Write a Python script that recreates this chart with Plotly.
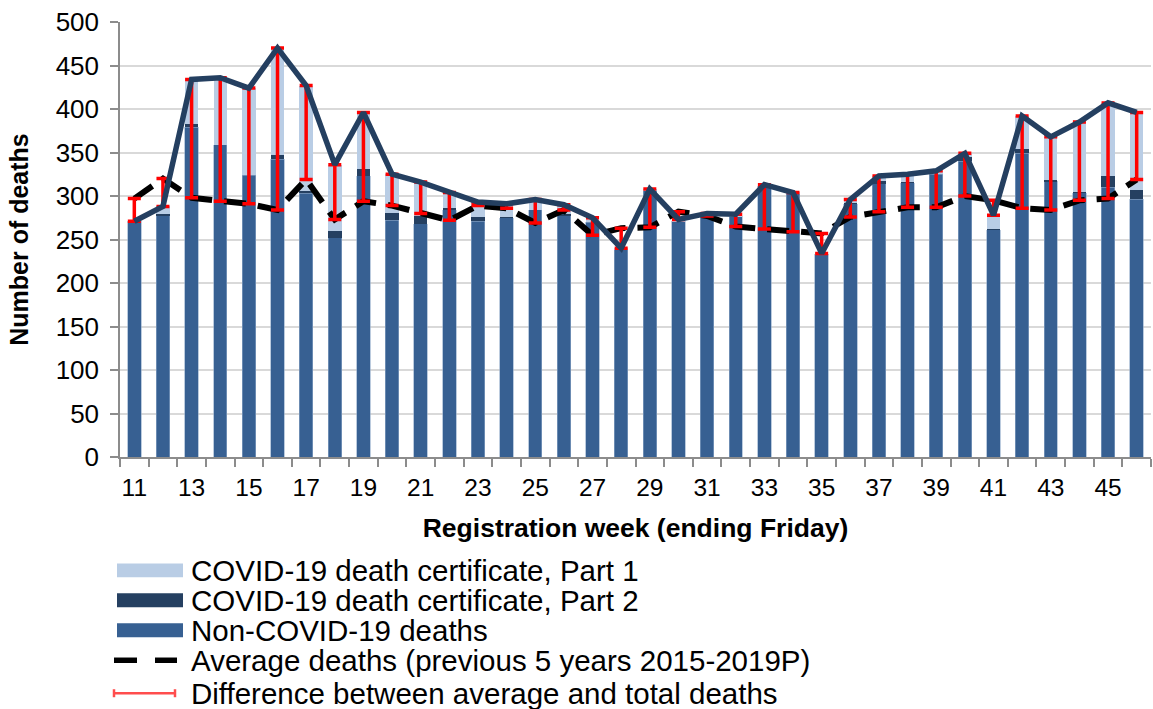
import plotly.graph_objects as go

# Registration weeks and weekly death counts
weeks = list(range(11, 47))
non_covid = [271, 278, 379, 359, 324, 342, 303, 252, 323, 272, 268, 284, 271, 275, 284, 278,
             270, 238, 306, 271, 279, 277, 312, 303, 233, 291, 314, 315, 325, 340, 261, 349,
             317, 304, 310, 296]
covid_part2 = [0, 1, 4, 0, 0, 5, 3, 8, 8, 8, 9, 2, 5, 1, 0, 1,
               0, 0, 0, 0, 0, 0, 0, 0, 0, 1, 3, 1, 0, 5, 1, 5,
               1, 1, 13, 11]
covid_part1 = [0, 9, 51, 77, 100, 123, 121, 76, 65, 45, 39, 18, 17, 15, 12, 11,
               5, 2, 2, 2, 1, 2, 1, 1, 1, 4, 6, 9, 4, 4, 16, 38,
               50, 80, 84, 89]
average_5yr = [297, 320, 298, 294, 291, 284, 319, 273, 294, 289, 280, 272, 289, 286, 269, 284,
               255, 263, 264, 282, 277, 265, 262, 259, 257, 276, 282, 287, 287, 300, 295, 286,
               284, 295, 297, 319]
y_ticks = [0, 50, 100, 150, 200, 250, 300, 350, 400, 450, 500]
x_tick_weeks = list(range(11, 47, 2))

total = [a + b + c for a, b, c in zip(non_covid, covid_part2, covid_part1)]
diff_up = [max(t - a, 0) for t, a in zip(total, average_5yr)]
diff_down = [max(a - t, 0) for t, a in zip(total, average_5yr)]

C_NON = "#376092"
C_P2 = "#254061"
C_P1 = "#b9cde5"
C_LINE = "#243f60"
FONT = "Liberation Sans, Arial, sans-serif"

W, H = 1153, 709
L, R, T, B = 120, 1151, 22, 457.5
ML, MR, MT, MB = L, W - R, T, H - B


def px(x):
    return (x - L) / (R - L)


def py(y):
    return (B - y) / (B - T)


fig = go.Figure()
bar_w = 0.47
fig.add_trace(go.Bar(x=weeks, y=non_covid, marker=dict(color=C_NON, line=dict(width=0.6, color="#8ea9c8")),
                     width=bar_w, name="Non-COVID-19 deaths"))
fig.add_trace(go.Bar(x=weeks, y=covid_part2, marker=dict(color=C_P2, line=dict(width=0)),
                     width=bar_w, name="COVID-19 death certificate, Part 2"))
fig.add_trace(go.Bar(x=weeks, y=covid_part1, marker=dict(color=C_P1, line=dict(width=0)),
                     width=bar_w, name="COVID-19 death certificate, Part 1"))

# Average line (dashed)
fig.add_trace(go.Scatter(x=weeks, y=average_5yr, mode="lines",
                         line=dict(color="black", width=6, dash="22px,12px"),
                         name="Average deaths (previous 5 years 2015-2019P)"))

# Difference between average and total as red error bars anchored on the average
fig.add_trace(go.Scatter(x=weeks, y=average_5yr, mode="markers",
                         marker=dict(size=1, color="rgba(0,0,0,0)"),
                         error_y=dict(type="data", symmetric=False, array=diff_up,
                                      arrayminus=diff_down, color="#ff0000",
                                      thickness=3.5, width=6.5),
                         name="Difference between average and total deaths"))

# Total deaths line
fig.add_trace(go.Scatter(x=weeks, y=total, mode="lines",
                         line=dict(color=C_LINE, width=5.5), name="Total deaths"))

fig.update_layout(
    barmode="stack",
    width=W, height=H,
    margin=dict(l=ML, r=MR, t=MT, b=MB, pad=0),
    paper_bgcolor="white", plot_bgcolor="white",
    showlegend=False,
    font=dict(family=FONT, color="black", size=25),
)

fig.update_xaxes(
    range=[10.5, 46.5],
    tickmode="array", tickvals=x_tick_weeks, ticktext=[str(w) for w in x_tick_weeks],
    ticks="", showgrid=False,
    showline=True, linecolor="#8c8c8c", linewidth=1.5,
    tickfont=dict(size=24.5, family=FONT),
    ticklabelstandoff=8,
    minor=dict(tickmode="linear", tick0=10.5, dtick=1, ticks="outside", ticklen=8,
               tickcolor="#8c8c8c", tickwidth=1.5, showgrid=False),
    title=dict(text="<b>Registration week (ending Friday)</b>", font=dict(size=26.5, family=FONT),
               standoff=18),
    zeroline=False,
)
fig.update_yaxes(
    range=[0, 500],
    tickmode="array", tickvals=y_ticks,
    ticks="outside", ticklen=8, tickcolor="#8c8c8c", tickwidth=1.5,
    showgrid=True, gridcolor="#d9d9d9", gridwidth=1.5,
    showline=True, linecolor="#8c8c8c", linewidth=1.5,
    tickfont=dict(size=26, family=FONT),
    ticklabelstandoff=6,
    title=dict(text="<b>Number of deaths</b>", font=dict(size=25, family=FONT), standoff=20),
    zeroline=False,
)

# Legend drawn below the axis title
shapes = []
annotations = []
legend_rows = [
    ("rect", C_P1, "COVID-19 death certificate, Part 1", 571),
    ("rect", C_P2, "COVID-19 death certificate, Part 2", 601),
    ("rect", C_NON, "Non-COVID-19 deaths", 631),
    ("dash", "black", "Average deaths (previous 5 years 2015-2019P)", 661),
    ("err", "#ff4d4d", "Difference between average and total deaths", 694),
]
for kind, color, label, yc in legend_rows:
    if kind == "rect":
        shapes.append(dict(type="rect", xref="paper", yref="paper",
                           x0=px(117), x1=px(183), y0=py(yc - 7), y1=py(yc + 7),
                           fillcolor=color, line=dict(width=0)))
    elif kind == "dash":
        for x0, x1 in [(114, 137), (155, 177)]:
            shapes.append(dict(type="line", xref="paper", yref="paper",
                               x0=px(x0), x1=px(x1), y0=py(yc), y1=py(yc),
                               line=dict(color=color, width=5.5)))
    else:
        shapes.append(dict(type="line", xref="paper", yref="paper",
                           x0=px(114), x1=px(175), y0=py(yc), y1=py(yc),
                           line=dict(color=color, width=2.5)))
        for xe in (114, 175):
            shapes.append(dict(type="line", xref="paper", yref="paper",
                               x0=px(xe), x1=px(xe), y0=py(yc - 4), y1=py(yc + 4),
                               line=dict(color=color, width=2.5)))
    annotations.append(dict(xref="paper", yref="paper", x=px(189), y=py(yc),
                            xanchor="left", yanchor="middle", showarrow=False,
                            text=label, font=dict(size=29.5, family=FONT, color="black")))

fig.update_layout(shapes=shapes, annotations=annotations)

fig.write_html("out.html")
